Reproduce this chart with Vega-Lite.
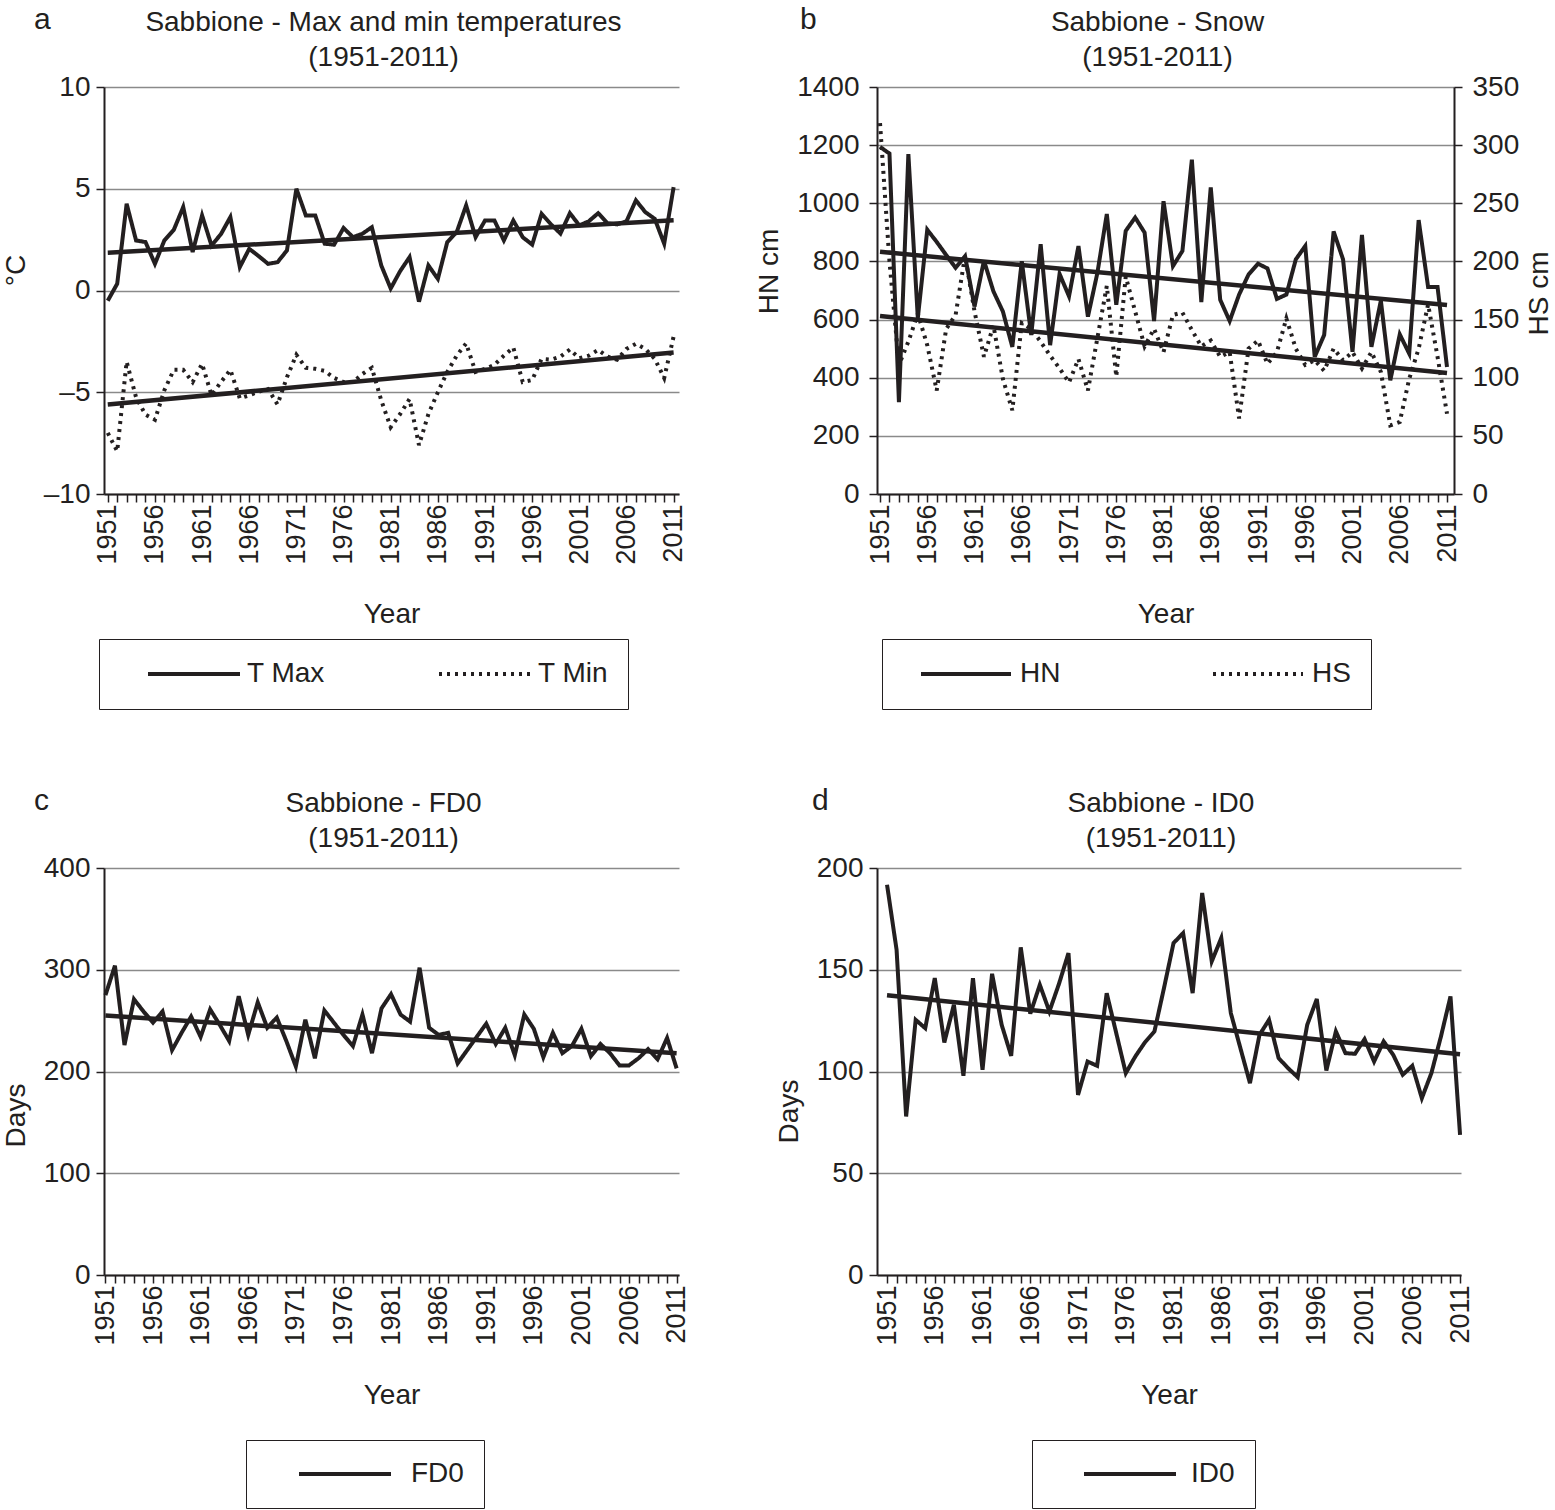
{
 "$schema": "https://vega.github.io/schema/vega-lite/v6.json",
 "padding": {"left": 2, "top": 5, "right": 0, "bottom": 0},
 "config": {
  "font": "Liberation Sans",
  "view": {"stroke": null},
  "title": {"fontSize": 28, "fontWeight": "normal", "color": "#231f20", "lineHeight": 35},
  "axis": {"labelFontSize": 28, "titleFontSize": 28, "titleFontWeight": "normal", "labelColor": "#231f20", "titleColor": "#231f20", "domainColor": "#231f20", "domainWidth": 2, "tickColor": "#231f20", "tickWidth": 1.5, "tickSize": 8, "gridColor": "#8a8a8a", "gridWidth": 1.5},
  "legend": {"labelFontSize": 28, "labelColor": "#231f20"},
  "line": {"color": "#231f20", "strokeWidth": 4}
 },
 "datasets": {
  "tmax": [{"year":1951,"value":-0.5},{"year":1952,"value":0.33},{"year":1953,"value":4.26},{"year":1954,"value":2.46},{"year":1955,"value":2.38},{"year":1956,"value":1.31},{"year":1957,"value":2.46},{"year":1958,"value":2.98},{"year":1959,"value":4.1},{"year":1960,"value":1.89},{"year":1961,"value":3.69},{"year":1962,"value":2.21},{"year":1963,"value":2.77},{"year":1964,"value":3.61},{"year":1965,"value":1.15},{"year":1966,"value":2.05},{"year":1967,"value":1.69},{"year":1968,"value":1.31},{"year":1969,"value":1.39},{"year":1970,"value":1.97},{"year":1971,"value":5.0},{"year":1972,"value":3.69},{"year":1973,"value":3.69},{"year":1974,"value":2.3},{"year":1975,"value":2.25},{"year":1976,"value":3.07},{"year":1977,"value":2.62},{"year":1978,"value":2.79},{"year":1979,"value":3.11},{"year":1980,"value":1.23},{"year":1981,"value":0.1},{"year":1982,"value":0.95},{"year":1983,"value":1.64},{"year":1984,"value":-0.55},{"year":1985,"value":1.23},{"year":1986,"value":0.57},{"year":1987,"value":2.38},{"year":1988,"value":2.87},{"year":1989,"value":4.18},{"year":1990,"value":2.62},{"year":1991,"value":3.44},{"year":1992,"value":3.44},{"year":1993,"value":2.46},{"year":1994,"value":3.44},{"year":1995,"value":2.62},{"year":1996,"value":2.25},{"year":1997,"value":3.77},{"year":1998,"value":3.25},{"year":1999,"value":2.8},{"year":2000,"value":3.8},{"year":2001,"value":3.2},{"year":2002,"value":3.4},{"year":2003,"value":3.8},{"year":2004,"value":3.3},{"year":2005,"value":3.25},{"year":2006,"value":3.4},{"year":2007,"value":4.43},{"year":2008,"value":3.85},{"year":2009,"value":3.52},{"year":2010,"value":2.3},{"year":2011,"value":5.08}],
  "tmin": [{"year":1951,"value":-7.0},{"year":1952,"value":-7.9},{"year":1953,"value":-3.5},{"year":1954,"value":-5.25},{"year":1955,"value":-6.1},{"year":1956,"value":-6.35},{"year":1957,"value":-4.9},{"year":1958,"value":-3.9},{"year":1959,"value":-3.9},{"year":1960,"value":-4.5},{"year":1961,"value":-3.6},{"year":1962,"value":-5.15},{"year":1963,"value":-4.5},{"year":1964,"value":-3.9},{"year":1965,"value":-5.3},{"year":1966,"value":-5.15},{"year":1967,"value":-4.97},{"year":1968,"value":-4.84},{"year":1969,"value":-5.6},{"year":1970,"value":-4.26},{"year":1971,"value":-3.16},{"year":1972,"value":-3.8},{"year":1973,"value":-3.85},{"year":1974,"value":-3.95},{"year":1975,"value":-4.3},{"year":1976,"value":-4.5},{"year":1977,"value":-4.5},{"year":1978,"value":-4.1},{"year":1979,"value":-3.8},{"year":1980,"value":-5.4},{"year":1981,"value":-6.72},{"year":1982,"value":-6.07},{"year":1983,"value":-5.33},{"year":1984,"value":-7.6},{"year":1985,"value":-6.07},{"year":1986,"value":-5.0},{"year":1987,"value":-4.0},{"year":1988,"value":-3.2},{"year":1989,"value":-2.6},{"year":1990,"value":-4.0},{"year":1991,"value":-3.85},{"year":1992,"value":-3.65},{"year":1993,"value":-3.2},{"year":1994,"value":-2.8},{"year":1995,"value":-4.5},{"year":1996,"value":-4.4},{"year":1997,"value":-3.36},{"year":1998,"value":-3.4},{"year":1999,"value":-3.25},{"year":2000,"value":-2.9},{"year":2001,"value":-3.33},{"year":2002,"value":-3.2},{"year":2003,"value":-2.92},{"year":2004,"value":-3.25},{"year":2005,"value":-3.4},{"year":2006,"value":-2.87},{"year":2007,"value":-2.62},{"year":2008,"value":-2.87},{"year":2009,"value":-3.36},{"year":2010,"value":-4.3},{"year":2011,"value":-2.26}],
  "tmaxTrend": [{"year":1951,"value":1.85},{"year":2011,"value":3.45}],
  "tminTrend": [{"year":1951,"value":-5.6},{"year":2011,"value":-3.05}],
  "hn": [{"year":1951,"value":1194},{"year":1952,"value":1171},{"year":1953,"value":316},{"year":1954,"value":1169},{"year":1955,"value":605},{"year":1956,"value":909},{"year":1957,"value":867},{"year":1958,"value":822},{"year":1959,"value":778},{"year":1960,"value":818},{"year":1961,"value":645},{"year":1962,"value":803},{"year":1963,"value":697},{"year":1964,"value":628},{"year":1965,"value":506},{"year":1966,"value":801},{"year":1967,"value":547},{"year":1968,"value":859},{"year":1969,"value":512},{"year":1970,"value":757},{"year":1971,"value":680},{"year":1972,"value":853},{"year":1973,"value":610},{"year":1974,"value":760},{"year":1975,"value":963},{"year":1976,"value":651},{"year":1977,"value":905},{"year":1978,"value":951},{"year":1979,"value":899},{"year":1980,"value":595},{"year":1981,"value":1007},{"year":1982,"value":784},{"year":1983,"value":836},{"year":1984,"value":1150},{"year":1985,"value":660},{"year":1986,"value":1055},{"year":1987,"value":668},{"year":1988,"value":595},{"year":1989,"value":686},{"year":1990,"value":755},{"year":1991,"value":792},{"year":1992,"value":776},{"year":1993,"value":671},{"year":1994,"value":686},{"year":1995,"value":807},{"year":1996,"value":853},{"year":1997,"value":472},{"year":1998,"value":547},{"year":1999,"value":903},{"year":2000,"value":807},{"year":2001,"value":489},{"year":2002,"value":891},{"year":2003,"value":506},{"year":2004,"value":665},{"year":2005,"value":391},{"year":2006,"value":549},{"year":2007,"value":483},{"year":2008,"value":942},{"year":2009,"value":712},{"year":2010,"value":712},{"year":2011,"value":437}],
  "hs": [{"year":1951,"value":319},{"year":1952,"value":200},{"year":1953,"value":111},{"year":1954,"value":131},{"year":1955,"value":155},{"year":1956,"value":128},{"year":1957,"value":89},{"year":1958,"value":142},{"year":1959,"value":154},{"year":1960,"value":205},{"year":1961,"value":157},{"year":1962,"value":118},{"year":1963,"value":145},{"year":1964,"value":99},{"year":1965,"value":72},{"year":1966,"value":147},{"year":1967,"value":142},{"year":1968,"value":131},{"year":1969,"value":119},{"year":1970,"value":108},{"year":1971,"value":96},{"year":1972,"value":116},{"year":1973,"value":89},{"year":1974,"value":134},{"year":1975,"value":179},{"year":1976,"value":101},{"year":1977,"value":187},{"year":1978,"value":157},{"year":1979,"value":127},{"year":1980,"value":142},{"year":1981,"value":122},{"year":1982,"value":154},{"year":1983,"value":156},{"year":1984,"value":141},{"year":1985,"value":127},{"year":1986,"value":132},{"year":1987,"value":118},{"year":1988,"value":122},{"year":1989,"value":65},{"year":1990,"value":125},{"year":1991,"value":132},{"year":1992,"value":112},{"year":1993,"value":122},{"year":1994,"value":151},{"year":1995,"value":125},{"year":1996,"value":111},{"year":1997,"value":115},{"year":1998,"value":106},{"year":1999,"value":125},{"year":2000,"value":115},{"year":2001,"value":122},{"year":2002,"value":108},{"year":2003,"value":122},{"year":2004,"value":105},{"year":2005,"value":59},{"year":2006,"value":62},{"year":2007,"value":99},{"year":2008,"value":125},{"year":2009,"value":163},{"year":2010,"value":118},{"year":2011,"value":69}],
  "hnTrend": [{"year":1951,"value":833},{"year":2011,"value":650}],
  "hsTrend": [{"year":1951,"value":153},{"year":2011,"value":104}],
  "fd0": [{"year":1951,"value":275},{"year":1952,"value":304},{"year":1953,"value":226},{"year":1954,"value":271},{"year":1955,"value":259},{"year":1956,"value":248},{"year":1957,"value":259},{"year":1958,"value":221},{"year":1959,"value":238},{"year":1960,"value":254},{"year":1961,"value":234},{"year":1962,"value":261},{"year":1963,"value":246},{"year":1964,"value":230},{"year":1965,"value":274},{"year":1966,"value":236},{"year":1967,"value":268},{"year":1968,"value":243},{"year":1969,"value":253},{"year":1970,"value":230},{"year":1971,"value":205},{"year":1972,"value":251},{"year":1973,"value":213},{"year":1974,"value":260},{"year":1975,"value":248},{"year":1976,"value":236},{"year":1977,"value":225},{"year":1978,"value":256},{"year":1979,"value":218},{"year":1980,"value":262},{"year":1981,"value":276},{"year":1982,"value":256},{"year":1983,"value":249},{"year":1984,"value":302},{"year":1985,"value":243},{"year":1986,"value":236},{"year":1987,"value":238},{"year":1988,"value":208},{"year":1989,"value":221},{"year":1990,"value":234},{"year":1991,"value":247},{"year":1992,"value":227},{"year":1993,"value":243},{"year":1994,"value":216},{"year":1995,"value":256},{"year":1996,"value":242},{"year":1997,"value":214},{"year":1998,"value":238},{"year":1999,"value":218},{"year":2000,"value":225},{"year":2001,"value":242},{"year":2002,"value":215},{"year":2003,"value":227},{"year":2004,"value":218},{"year":2005,"value":206},{"year":2006,"value":206},{"year":2007,"value":213},{"year":2008,"value":222},{"year":2009,"value":212},{"year":2010,"value":233},{"year":2011,"value":203}],
  "fd0Trend": [{"year":1951,"value":255},{"year":2011,"value":218}],
  "id0": [{"year":1951,"value":191.8},{"year":1952,"value":159.8},{"year":1953,"value":77.9},{"year":1954,"value":125.4},{"year":1955,"value":121.3},{"year":1956,"value":145.9},{"year":1957,"value":114.3},{"year":1958,"value":132.8},{"year":1959,"value":97.9},{"year":1960,"value":145.9},{"year":1961,"value":100.8},{"year":1962,"value":148},{"year":1963,"value":123},{"year":1964,"value":107.7},{"year":1965,"value":161},{"year":1966,"value":128.4},{"year":1967,"value":142.6},{"year":1968,"value":129.5},{"year":1969,"value":143},{"year":1970,"value":158.2},{"year":1971,"value":88.5},{"year":1972,"value":104.9},{"year":1973,"value":102.8},{"year":1974,"value":138.5},{"year":1975,"value":118.9},{"year":1976,"value":99.2},{"year":1977,"value":107.4},{"year":1978,"value":114.3},{"year":1979,"value":119.7},{"year":1980,"value":141},{"year":1981,"value":163.1},{"year":1982,"value":168},{"year":1983,"value":138.5},{"year":1984,"value":187.7},{"year":1985,"value":154.1},{"year":1986,"value":165.6},{"year":1987,"value":128.7},{"year":1988,"value":111.5},{"year":1989,"value":94.3},{"year":1990,"value":118},{"year":1991,"value":125.4},{"year":1992,"value":106.6},{"year":1993,"value":101.6},{"year":1994,"value":97.2},{"year":1995,"value":122.95},{"year":1996,"value":135.6},{"year":1997,"value":100.5},{"year":1998,"value":119.7},{"year":1999,"value":109},{"year":2000,"value":108.7},{"year":2001,"value":115.9},{"year":2002,"value":104.9},{"year":2003,"value":114.8},{"year":2004,"value":108.2},{"year":2005,"value":98.4},{"year":2006,"value":102.8},{"year":2007,"value":86.9},{"year":2008,"value":99.2},{"year":2009,"value":117.2},{"year":2010,"value":136.9},{"year":2011,"value":68.9}],
  "id0Trend": [{"year":1951,"value":137.5},{"year":2011,"value":108.5}]
 },
 "resolve": {"scale": {"x": "independent", "y": "independent", "strokeDash": "independent"}, "legend": {"strokeDash": "independent"}},
 "spacing": 76,
 "vconcat": [
  {
   "spacing": 68,
   "resolve": {"scale": {"x": "independent", "y": "independent", "strokeDash": "independent"}, "legend": {"strokeDash": "independent"}},
   "hconcat": [
    {
     "title": {"text": "a", "anchor": "start", "fontSize": 30, "dx": 32, "dy": 30},
     "resolve": {"scale": {"x": "independent", "y": "independent", "strokeDash": "independent"}, "legend": {"strokeDash": "independent"}},
     "vconcat": [
      {
       "width": 575, "height": 407,
       "title": {"text": ["Sabbione - Max and min temperatures", "(1951-2011)"], "frame": "group", "dx": -8, "offset": 1},
       "layer": [
        {"data": {"name": "tmax"}, "mark": {"type": "line"},
         "encoding": {
          "x": {"field": "year", "type": "quantitative", "scale": {"domain": [1950.6, 2011.57], "nice": false, "zero": false},
                "axis": {"values": [1951,1952,1953,1954,1955,1956,1957,1958,1959,1960,1961,1962,1963,1964,1965,1966,1967,1968,1969,1970,1971,1972,1973,1974,1975,1976,1977,1978,1979,1980,1981,1982,1983,1984,1985,1986,1987,1988,1989,1990,1991,1992,1993,1994,1995,1996,1997,1998,1999,2000,2001,2002,2003,2004,2005,2006,2007,2008,2009,2010,2011], "tickCount": 100, "format": "d", "labelExpr": "(datum.value - 1951) % 5 == 0 ? datum.label : ''", "labelAngle": -90, "labelAlign": "right", "labelBaseline": "middle", "labelFontSize": 27, "labelPadding": 2, "labelOverlap": false, "labelFlush": false, "labelBound": false, "grid": false, "title": "Year", "titleY": 120, "titleBaseline": "middle"}},
          "y": {"field": "value", "type": "quantitative", "scale": {"domain": [-10, 10], "nice": false, "zero": false},
                "axis": {"values": [-10, -5, 0, 5, 10], "format": "d", "title": "°C", "titleX": -88, "titleY": 183, "titleAngle": -90, "titleAlign": "center", "titleBaseline": "middle", "labelExpr": "replace(datum.label, '−', '–')", "grid": true, "labelPadding": 6}},
          "strokeDash": {"datum": "T Max", "type": "nominal", "scale": {"domain": ["T Max", "T Min"], "range": [[1, 0], [3, 5]]},
                "legend": {"orient": "none", "legendX": -5, "legendY": 552, "direction": "horizontal", "title": null, "symbolType": "stroke", "symbolSize": 8464, "symbolStrokeWidth": 3.5, "symbolStrokeColor": "#231f20", "clipHeight": 30, "padding": 20, "symbolOffset": 27, "labelOffset": 5, "columnPadding": 85, "strokeColor": "#231f20", "fillColor": "#ffffff", "labelFontSize": 28}}
         }},
        {"data": {"name": "tmin"}, "mark": {"type": "line"},
         "encoding": {"x": {"field": "year", "type": "quantitative"}, "y": {"field": "value", "type": "quantitative"}, "strokeDash": {"datum": "T Min", "type": "nominal"}}},
        {"data": {"name": "tmaxTrend"}, "mark": {"type": "line", "strokeWidth": 4.5},
         "encoding": {"x": {"field": "year", "type": "quantitative"}, "y": {"field": "value", "type": "quantitative"}}},
        {"data": {"name": "tminTrend"}, "mark": {"type": "line", "strokeWidth": 4.5},
         "encoding": {"x": {"field": "year", "type": "quantitative"}, "y": {"field": "value", "type": "quantitative"}}}
       ]
      }
     ]
    },
    {
     "title": {"text": "b", "anchor": "start", "fontSize": 30, "dx": 45, "dy": 30},
     "resolve": {"scale": {"x": "independent", "y": "independent", "strokeDash": "independent"}, "legend": {"strokeDash": "independent"}},
     "vconcat": [
      {
       "width": 577, "height": 407,
       "title": {"text": ["Sabbione - Snow", "(1951-2011)"], "frame": "group", "dx": -8, "offset": 1},
       "resolve": {"scale": {"y": "independent"}},
       "layer": [
        {"layer": [
         {"data": {"name": "hn"}, "mark": {"type": "line"},
          "encoding": {
           "x": {"field": "year", "type": "quantitative", "scale": {"domain": [1950.68, 2011.74], "nice": false, "zero": false},
                 "axis": {"values": [1951,1952,1953,1954,1955,1956,1957,1958,1959,1960,1961,1962,1963,1964,1965,1966,1967,1968,1969,1970,1971,1972,1973,1974,1975,1976,1977,1978,1979,1980,1981,1982,1983,1984,1985,1986,1987,1988,1989,1990,1991,1992,1993,1994,1995,1996,1997,1998,1999,2000,2001,2002,2003,2004,2005,2006,2007,2008,2009,2010,2011], "tickCount": 100, "format": "d", "labelExpr": "(datum.value - 1951) % 5 == 0 ? datum.label : ''", "labelAngle": -90, "labelAlign": "right", "labelBaseline": "middle", "labelFontSize": 27, "labelPadding": 2, "labelOverlap": false, "labelFlush": false, "labelBound": false, "grid": false, "title": "Year", "titleY": 120, "titleBaseline": "middle"}},
           "y": {"field": "value", "type": "quantitative", "scale": {"domain": [0, 1400], "nice": false},
                 "axis": {"values": [0, 200, 400, 600, 800, 1000, 1200, 1400], "format": "d", "title": "HN cm", "titleX": -108, "titleY": 184, "titleAngle": -90, "titleAlign": "center", "titleBaseline": "middle", "grid": true, "labelPadding": 10}},
           "strokeDash": {"datum": "HN", "type": "nominal", "scale": {"domain": ["HN", "HS"], "range": [[1, 0], [3, 5]]},
                 "legend": {"orient": "none", "legendX": 5, "legendY": 552, "direction": "horizontal", "title": null, "symbolType": "stroke", "symbolSize": 8100, "symbolStrokeWidth": 3.5, "symbolStrokeColor": "#231f20", "clipHeight": 30, "padding": 20, "symbolOffset": 17, "labelOffset": 7, "columnPadding": 133, "strokeColor": "#231f20", "fillColor": "#ffffff", "labelFontSize": 28}}
          }},
         {"data": {"name": "hnTrend"}, "mark": {"type": "line", "strokeWidth": 4.5},
          "encoding": {"x": {"field": "year", "type": "quantitative"}, "y": {"field": "value", "type": "quantitative"}}}
        ]},
        {"layer": [
         {"data": {"name": "hs"}, "mark": {"type": "line"},
          "encoding": {
           "x": {"field": "year", "type": "quantitative"},
           "y": {"field": "value", "type": "quantitative", "scale": {"domain": [0, 350], "nice": false},
                 "axis": {"orient": "right", "values": [0, 50, 100, 150, 200, 250, 300, 350], "format": "d", "title": "HS cm", "titleX": 85, "titleY": 206, "titleAngle": -90, "titleAlign": "center", "titleBaseline": "middle", "grid": false, "labelPadding": 10}},
           "strokeDash": {"datum": "HS", "type": "nominal"}
          }},
         {"data": {"name": "hsTrend"}, "mark": {"type": "line", "strokeWidth": 4.5},
          "encoding": {"x": {"field": "year", "type": "quantitative"}, "y": {"field": "value", "type": "quantitative"}}}
        ]}
       ]
      }
     ]
    }
   ]
  },
  {
   "spacing": 85,
   "resolve": {"scale": {"x": "independent", "y": "independent", "strokeDash": "independent"}, "legend": {"strokeDash": "independent"}},
   "hconcat": [
    {
     "title": {"text": "c", "anchor": "start", "fontSize": 30, "dx": 32, "dy": 30},
     "resolve": {"scale": {"x": "independent", "y": "independent", "strokeDash": "independent"}, "legend": {"strokeDash": "independent"}},
     "vconcat": [
      {
       "width": 575, "height": 407,
       "title": {"text": ["Sabbione - FD0", "(1951-2011)"], "frame": "group", "dx": -8, "offset": 1},
       "layer": [
        {"data": {"name": "fd0"}, "mark": {"type": "line"},
         "encoding": {
          "x": {"field": "year", "type": "quantitative", "scale": {"domain": [1950.85, 2011.25], "nice": false, "zero": false},
                "axis": {"values": [1951,1952,1953,1954,1955,1956,1957,1958,1959,1960,1961,1962,1963,1964,1965,1966,1967,1968,1969,1970,1971,1972,1973,1974,1975,1976,1977,1978,1979,1980,1981,1982,1983,1984,1985,1986,1987,1988,1989,1990,1991,1992,1993,1994,1995,1996,1997,1998,1999,2000,2001,2002,2003,2004,2005,2006,2007,2008,2009,2010,2011], "tickCount": 100, "format": "d", "labelExpr": "(datum.value - 1951) % 5 == 0 ? datum.label : ''", "labelAngle": -90, "labelAlign": "right", "labelBaseline": "middle", "labelFontSize": 27, "labelPadding": 2, "labelOverlap": false, "labelFlush": false, "labelBound": false, "grid": false, "title": "Year", "titleY": 120, "titleBaseline": "middle"}},
          "y": {"field": "value", "type": "quantitative", "scale": {"domain": [0, 400], "nice": false},
                "axis": {"values": [0, 100, 200, 300, 400], "format": "d", "title": "Days", "titleX": -88, "titleY": 247, "titleAngle": -90, "titleAlign": "center", "titleBaseline": "middle", "grid": true, "labelPadding": 6}},
          "strokeDash": {"datum": "FD0", "type": "nominal", "scale": {"domain": ["FD0"], "range": [[1, 0]]},
                "legend": {"orient": "none", "legendX": 142, "legendY": 572, "direction": "horizontal", "title": null, "symbolType": "stroke", "symbolSize": 8464, "symbolStrokeWidth": 3.5, "symbolStrokeColor": "#231f20", "clipHeight": 28, "padding": 20, "symbolOffset": 31, "labelOffset": 18, "strokeColor": "#231f20", "fillColor": "#ffffff", "labelFontSize": 28}}
         }},
        {"data": {"name": "fd0Trend"}, "mark": {"type": "line", "strokeWidth": 4.5},
         "encoding": {"x": {"field": "year", "type": "quantitative"}, "y": {"field": "value", "type": "quantitative"}}}
       ]
      }
     ]
    },
    {
     "title": {"text": "d", "anchor": "start", "fontSize": 30, "dx": 37, "dy": 30},
     "resolve": {"scale": {"x": "independent", "y": "independent", "strokeDash": "independent"}, "legend": {"strokeDash": "independent"}},
     "vconcat": [
      {
       "width": 584, "height": 407,
       "title": {"text": ["Sabbione - ID0", "(1951-2011)"], "frame": "group", "dx": -8, "offset": 1},
       "layer": [
        {"data": {"name": "id0"}, "mark": {"type": "line"},
         "encoding": {
          "x": {"field": "year", "type": "quantitative", "scale": {"domain": [1949.95, 2011.1], "nice": false, "zero": false},
                "axis": {"values": [1951,1952,1953,1954,1955,1956,1957,1958,1959,1960,1961,1962,1963,1964,1965,1966,1967,1968,1969,1970,1971,1972,1973,1974,1975,1976,1977,1978,1979,1980,1981,1982,1983,1984,1985,1986,1987,1988,1989,1990,1991,1992,1993,1994,1995,1996,1997,1998,1999,2000,2001,2002,2003,2004,2005,2006,2007,2008,2009,2010,2011], "tickCount": 100, "format": "d", "labelExpr": "(datum.value - 1951) % 5 == 0 ? datum.label : ''", "labelAngle": -90, "labelAlign": "right", "labelBaseline": "middle", "labelFontSize": 27, "labelPadding": 2, "labelOverlap": false, "labelFlush": false, "labelBound": false, "grid": false, "title": "Year", "titleY": 120, "titleBaseline": "middle"}},
          "y": {"field": "value", "type": "quantitative", "scale": {"domain": [0, 200], "nice": false},
                "axis": {"values": [0, 50, 100, 150, 200], "format": "d", "title": "Days", "titleX": -88, "titleY": 243, "titleAngle": -90, "titleAlign": "center", "titleBaseline": "middle", "grid": true, "labelPadding": 6}},
          "strokeDash": {"datum": "ID0", "type": "nominal", "scale": {"domain": ["ID0"], "range": [[1, 0]]},
                "legend": {"orient": "none", "legendX": 155, "legendY": 572, "direction": "horizontal", "title": null, "symbolType": "stroke", "symbolSize": 8464, "symbolStrokeWidth": 3.5, "symbolStrokeColor": "#231f20", "clipHeight": 28, "padding": 20, "symbolOffset": 30, "labelOffset": 13, "strokeColor": "#231f20", "fillColor": "#ffffff", "labelFontSize": 28}}
         }},
        {"data": {"name": "id0Trend"}, "mark": {"type": "line", "strokeWidth": 4.5},
         "encoding": {"x": {"field": "year", "type": "quantitative"}, "y": {"field": "value", "type": "quantitative"}}}
       ]
      }
     ]
    }
   ]
  }
 ]
}
